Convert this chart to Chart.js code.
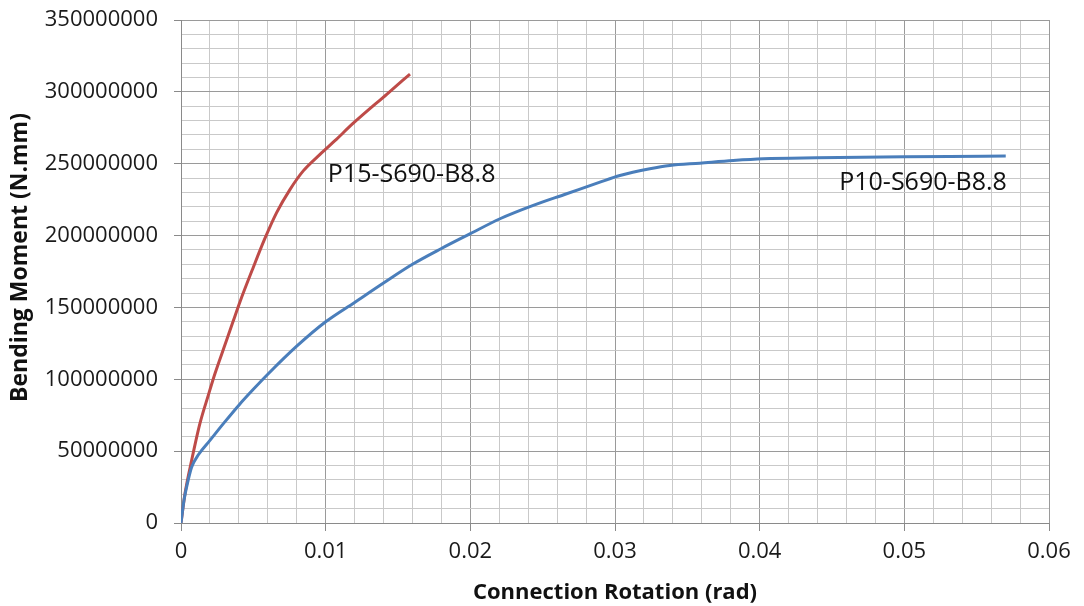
<!DOCTYPE html>
<html>
<head>
<meta charset="utf-8">
<title>Moment-rotation curves</title>
<script src="https://cdn.jsdelivr.net/npm/chart.js@4.4.0/dist/chart.umd.min.js"></script>
<style>
  html, body { margin: 0; padding: 0; background: #ffffff; }
  #wrap { position: relative; width: 1084px; height: 606px; }
</style>
</head>
<body>
<div id="wrap"><canvas id="momentChart"></canvas></div>
<script>
// P15-S690-B8.8 : rotation (rad) / moment (N.mm)
var p15Rotation = [0, 0.00028, 0.00074, 0.00131, 0.00189, 0.00235, 0.00304, 0.00361, 0.00408, 0.0050,
    0.0058, 0.00661, 0.00753, 0.00845, 0.00961, 0.01064, 0.01189, 0.01424, 0.01583];
var p15Moment = [0, 20700000, 43800000, 69300000, 89000000, 104000000, 124000000, 140500000, 154000000, 178000000,
    198000000, 216000000, 232000000, 245000000, 256500000, 266000000, 278000000, 298500000, 312400000];

// P10-S690-B8.8
var p10Rotation = [0, 0.00021, 0.0005, 0.00074, 0.0012, 0.002, 0.003, 0.004, 0.005, 0.006,
    0.008, 0.01, 0.012, 0.014, 0.016, 0.018, 0.02, 0.02205,
    0.02435, 0.02666, 0.02896, 0.03034, 0.03241, 0.03379, 0.03587, 0.03817, 0.04024, 0.04393,
    0.04853, 0.05314, 0.05701];
var p10Moment = [0, 16000000, 30000000, 39000000, 47500000, 57500000, 70000000, 82000000, 93000000, 103500000,
    123000000, 140000000, 153500000, 167000000, 180000000, 191000000, 201300000, 211700000,
    221000000, 229100000, 237200000, 241800000, 246500000, 248800000, 250400000, 252200000, 253400000, 254100000,
    254600000, 255100000, 255300000];

var xTickLabels = ['0', '0.01', '0.02', '0.03', '0.04', '0.05', '0.06'];
var yTickLabels = ['0', '50000000', '100000000', '150000000', '200000000', '250000000', '300000000', '350000000'];
var seriesNames = ['P10-S690-B8.8', 'P15-S690-B8.8'];
var yTitle = 'Bending Moment (N.mm)';

function toPoints(xs, ys) {
    var pts = [];
    for (var i = 0; i < xs.length; i++) pts.push({ x: xs[i], y: ys[i] });
    return pts;
}

var FONT = '"Open Sans", "Liberation Sans", sans-serif';
var MAJOR_GRID = '#9a9a9a';
var MINOR_GRID = '#c9c9c9';

// every 5th minor line is a major one
function gridColor(ctx) { return ctx.index % 5 === 0 ? MAJOR_GRID : MINOR_GRID; }
function tickMarkColor(ctx) { return ctx.index % 5 === 0 ? '#8a8a8a' : 'rgba(0,0,0,0)'; }

// curve names next to each line, plus the vertical axis title
var curveLabels = {
    id: 'curveLabels',
    afterDatasetsDraw: function (chart, args, opts) {
        var c = chart.ctx;
        var xs = chart.scales.x, ys = chart.scales.y;
        var area = chart.chartArea;
        c.save();
        c.font = '25px ' + FONT;
        c.fillStyle = '#111111';
        c.textAlign = 'left';
        c.textBaseline = 'middle';
        opts.items.forEach(function (it) {
            c.fillText(it.text, xs.getPixelForValue(it.x), ys.getPixelForValue(it.y));
        });
        c.restore();

        // axis title sits a little above the plot's middle
        c.save();
        c.translate(20, (area.top + area.bottom) / 2 - 14);
        c.rotate(-Math.PI / 2);
        c.font = 'bold 23px ' + FONT;
        c.fillStyle = '#111111';
        c.textAlign = 'center';
        c.textBaseline = 'middle';
        c.fillText(yTitle, 0, 0);
        c.restore();
    }
};

var ctx = document.getElementById('momentChart').getContext('2d');
var chart = new Chart(ctx, {
    type: 'scatter',
    data: {
        datasets: [{
            label: seriesNames[0],
            data: toPoints(p10Rotation, p10Moment),
            showLine: true,
            borderColor: '#4a7ebb',
            borderWidth: 3,
            pointRadius: 0,
            cubicInterpolationMode: 'monotone'
        }, {
            label: seriesNames[1],
            data: toPoints(p15Rotation, p15Moment),
            showLine: true,
            borderColor: '#be4b48',
            borderWidth: 3,
            pointRadius: 0,
            cubicInterpolationMode: 'monotone'
        }]
    },
    options: {
        responsive: true,
        maintainAspectRatio: false,
        animation: false,
        layout: { padding: { top: 20, right: 35, left: 0, bottom: 0 } },
        plugins: {
            legend: { display: false },
            tooltip: { enabled: false },
            curveLabels: {
                items: [
                    { text: seriesNames[1], x: 0.01015, y: 242000000 },
                    { text: seriesNames[0], x: 0.0455, y: 236500000 }
                ]
            }
        },
        scales: {
            x: {
                type: 'linear',
                min: 0,
                max: 0.06,
                afterFit: function (scale) { scale.height = 83; },
                ticks: {
                    stepSize: 0.002,
                    autoSkip: false,
                    maxRotation: 0,
                    padding: 8,
                    color: '#1a1a1a',
                    font: { family: FONT, size: 22 },
                    callback: function (v, i) { return i % 5 === 0 ? xTickLabels[i / 5] : ''; }
                },
                grid: { color: gridColor, tickColor: tickMarkColor, tickLength: 8, lineWidth: 1 },
                border: { color: '#8a8a8a' },
                title: {
                    display: true,
                    text: 'Connection Rotation (rad)',
                    color: '#111111',
                    font: { family: FONT, size: 22, weight: 'bold' },
                    padding: { top: 0, bottom: 0 }
                }
            },
            y: {
                type: 'linear',
                min: 0,
                max: 350000000,
                afterFit: function (scale) {
                    scale.width = 181;
                    // top label may hang into the outer padding
                    scale.paddingTop = 0;
                    scale.paddingBottom = 0;
                },
                ticks: {
                    stepSize: 10000000,
                    autoSkip: false,
                    padding: 16,
                    color: '#1a1a1a',
                    font: { family: FONT, size: 22 },
                    callback: function (v, i) { return i % 5 === 0 ? yTickLabels[i / 5] : ''; }
                },
                grid: { color: gridColor, tickColor: tickMarkColor, tickLength: 7, lineWidth: 1 },
                border: { color: '#8a8a8a' }
            }
        }
    },
    plugins: [curveLabels]
});
</script>
</body>
</html>
